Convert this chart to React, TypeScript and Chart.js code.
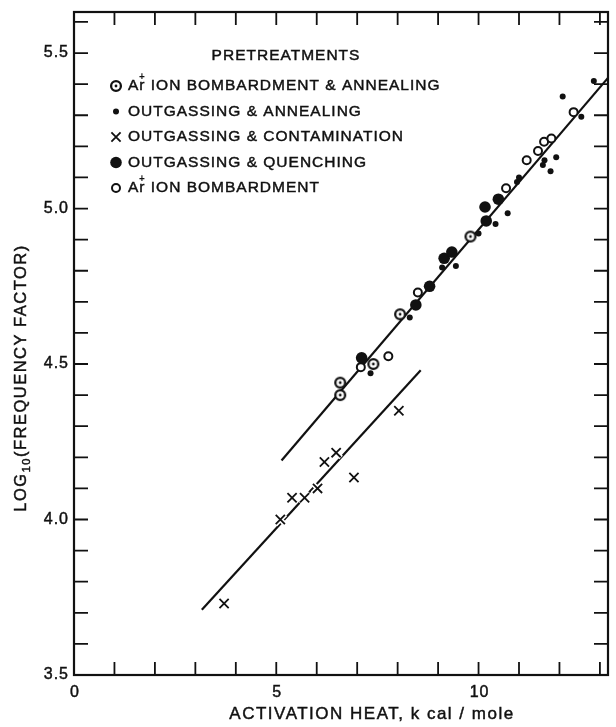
import React, { useEffect, useRef } from "react";
import { Chart, registerables } from "chart.js";

Chart.register(...registerables);

// Activation heat (kcal/mole) and log10(frequency factor) for each pretreatment
const ionAnnealX = [6.58, 6.58, 7.4, 8.06, 9.8];
const ionAnnealY = [4.44, 4.4, 4.5, 4.66, 4.91];

const outAnnealX = [7.33, 8.3, 9.1, 9.44, 10.0, 10.42, 10.72, 10.95, 11.0, 11.59, 11.63, 11.92, 11.78, 12.54, 12.08, 12.85];
const outAnnealY = [4.47, 4.65, 4.81, 4.815, 4.92, 4.95, 4.985, 5.085, 5.1, 5.14, 5.155, 5.165, 5.12, 5.295, 5.36, 5.41];

const contamX = [3.71, 5.1, 5.39, 5.7, 6.02, 6.19, 6.48, 6.92, 8.03];
const contamY = [3.73, 4.0, 4.07, 4.07, 4.1, 4.185, 4.215, 4.135, 4.35];

const quenchX = [7.11, 8.45, 8.79, 9.15, 9.34, 10.19, 10.16, 10.49];
const quenchY = [4.52, 4.69, 4.75, 4.84, 4.86, 4.96, 5.005, 5.03];

const ionBombX = [7.09, 7.77, 8.5, 10.68, 11.19, 11.47, 11.62, 11.8, 12.35];
const ionBombY = [4.49, 4.525, 4.73, 5.065, 5.155, 5.185, 5.215, 5.225, 5.31];

// Fitted straight lines (end points)
const upperFitX = [5.13, 13.2];
const upperFitY = [4.19, 5.42];
const lowerFitX = [3.16, 8.57];
const lowerFitY = [3.71, 4.48];

// Axes
const X_MIN = 0;
const X_MAX = 13.2;
const Y_MIN = 3.5;
const Y_MAX = 5.632;
const xTickLabels = [0, 5, 10];
const yTickLabels = ["3.5", "4.0", "4.5", "5.0", "5.5"];

const legendTitle = "PRETREATMENTS";
const legendRows = [
  { mark: "ionAnneal", ar: true, text: " ION BOMBARDMENT & ANNEALING" },
  { mark: "small", ar: false, text: "OUTGASSING & ANNEALING" },
  { mark: "cross", ar: false, text: "OUTGASSING & CONTAMINATION" },
  { mark: "big", ar: false, text: "OUTGASSING & QUENCHING" },
  { mark: "open", ar: true, text: " ION BOMBARDMENT" },
];
const xTitle = "ACTIVATION HEAT, k cal / mole";
const yTitleParts = ["LOG", "10", "(FREQUENCY FACTOR)"];

const FONT = "'Liberation Sans', Arial, sans-serif";
const INK = "#111";

const pts = (xs: number[], ys: number[]) => xs.map((x, i) => ({ x, y: ys[i] }));

// Text with a faint outline so the lettering reads as medium weight
function ink(ctx: CanvasRenderingContext2D, s: string, x: number, y: number) {
  ctx.fillText(s, x, y);
  ctx.strokeText(s, x, y);
}

function makeDottedCircle(): HTMLCanvasElement {
  const c = document.createElement("canvas");
  c.width = 14;
  c.height = 14;
  const g = c.getContext("2d")!;
  g.beginPath();
  g.arc(7, 7, 4.9, 0, Math.PI * 2);
  g.fillStyle = "#fff";
  g.fill();
  g.lineWidth = 2.3;
  g.strokeStyle = INK;
  g.stroke();
  g.beginPath();
  g.arc(7, 7, 1.4, 0, Math.PI * 2);
  g.fillStyle = INK;
  g.fill();
  return c;
}

function drawMark(ctx: CanvasRenderingContext2D, kind: string, x: number, y: number) {
  ctx.save();
  ctx.strokeStyle = INK;
  ctx.fillStyle = INK;
  if (kind === "ionAnneal") {
    ctx.beginPath();
    ctx.arc(x, y, 4.9, 0, Math.PI * 2);
    ctx.lineWidth = 2.3;
    ctx.stroke();
    ctx.beginPath();
    ctx.arc(x, y, 1.4, 0, Math.PI * 2);
    ctx.fill();
  } else if (kind === "small") {
    ctx.beginPath();
    ctx.arc(x, y, 3, 0, Math.PI * 2);
    ctx.fill();
  } else if (kind === "big") {
    ctx.beginPath();
    ctx.arc(x, y, 5.8, 0, Math.PI * 2);
    ctx.fill();
  } else if (kind === "open") {
    ctx.beginPath();
    ctx.arc(x, y, 4, 0, Math.PI * 2);
    ctx.lineWidth = 2;
    ctx.stroke();
  } else if (kind === "cross") {
    const r = 4.6;
    ctx.lineWidth = 1.8;
    ctx.beginPath();
    ctx.moveTo(x - r, y - r);
    ctx.lineTo(x + r, y + r);
    ctx.moveTo(x - r, y + r);
    ctx.lineTo(x + r, y - r);
    ctx.stroke();
  }
  ctx.restore();
}

const framePlugin = {
  id: "frameAndText",
  afterDraw(chart: any) {
    const ctx: CanvasRenderingContext2D = chart.ctx;
    const a = chart.chartArea;
    const xs = chart.scales.x;
    const ys = chart.scales.y;
    ctx.save();

    // frame
    ctx.strokeStyle = INK;
    ctx.lineWidth = 2.2;
    ctx.strokeRect(a.left, a.top, a.right - a.left, a.bottom - a.top);

    // inward ticks
    ctx.lineWidth = 1.8;
    ctx.beginPath();
    for (let v = X_MIN + 1; v < X_MAX; v++) {
      const px = xs.getPixelForValue(v);
      ctx.moveTo(px, a.bottom);
      ctx.lineTo(px, a.bottom - 13);
      ctx.moveTo(px, a.top);
      ctx.lineTo(px, a.top + 13);
    }
    for (let k = 1; Y_MIN + k * 0.1 < Y_MAX; k++) {
      const py = ys.getPixelForValue(Y_MIN + k * 0.1);
      ctx.moveTo(a.left, py);
      ctx.lineTo(a.left + 14, py);
      ctx.moveTo(a.right, py);
      ctx.lineTo(a.right - 14, py);
    }
    ctx.stroke();

    ctx.fillStyle = INK;
    ctx.strokeStyle = INK;
    ctx.lineWidth = 0.45;
    (ctx as any).letterSpacing = "1px";

    // tick labels
    ctx.font = `16px ${FONT}`;
    ctx.textAlign = "right";
    ctx.textBaseline = "middle";
    yTickLabels.forEach((t) => {
      ink(ctx, t, a.left - 5, ys.getPixelForValue(parseFloat(t)));
    });
    ctx.textAlign = "center";
    ctx.textBaseline = "top";
    xTickLabels.forEach((v) => {
      ink(ctx, String(v), xs.getPixelForValue(v) + 1, a.bottom + 10);
    });

    // x title
    ctx.font = `17px ${FONT}`;
    (ctx as any).letterSpacing = "1.5px";
    ctx.textAlign = "center";
    ctx.textBaseline = "alphabetic";
    ink(ctx, xTitle, 372, 719);

    // y title with subscript
    ctx.save();
    ctx.translate(26, 378);
    ctx.rotate(-Math.PI / 2);
    ctx.textAlign = "left";
    ctx.textBaseline = "alphabetic";
    const big = `16.5px ${FONT}`;
    const small = `11px ${FONT}`;
    ctx.font = big;
    const w0 = ctx.measureText(yTitleParts[0]).width;
    const w2 = ctx.measureText(yTitleParts[2]).width;
    ctx.font = small;
    const w1 = ctx.measureText(yTitleParts[1]).width;
    let tx = -(w0 + w1 + w2) / 2;
    ctx.font = big;
    ink(ctx, yTitleParts[0], tx, 0);
    tx += w0;
    ctx.font = small;
    ink(ctx, yTitleParts[1], tx, 4);
    tx += w1;
    ctx.font = big;
    ink(ctx, yTitleParts[2], tx, 0);
    ctx.restore();

    // legend
    (ctx as any).letterSpacing = "1px";
    ctx.font = `15.5px ${FONT}`;
    ctx.textAlign = "center";
    ctx.textBaseline = "middle";
    ink(ctx, legendTitle, 286, 56);
    ctx.textAlign = "left";
    legendRows.forEach((row, i) => {
      const y = 86 + i * 25.5;
      drawMark(ctx, row.mark, 116, y);
      let x = 128;
      ctx.font = `15.5px ${FONT}`;
      if (row.ar) {
        ink(ctx, "A", x, y);
        x += ctx.measureText("A").width;
        ink(ctx, "r", x, y);
        const rw = ctx.measureText("r").width;
        ctx.font = `bold 10px ${FONT}`;
        (ctx as any).letterSpacing = "0px";
        ctx.textAlign = "center";
        ctx.fillText("+", x + rw / 2 - 0.5, y - 9);
        ctx.textAlign = "left";
        (ctx as any).letterSpacing = "1px";
        ctx.font = `15.5px ${FONT}`;
        x += rw;
      }
      ink(ctx, row.text, x, y);
    });

    ctx.restore();
  },
};

export default function App() {
  const ref = useRef<HTMLCanvasElement | null>(null);

  useEffect(() => {
    if (!ref.current) return;
    const dotted = makeDottedCircle();
    const chart = new Chart(ref.current, {
      type: "scatter",
      data: {
        datasets: [
          {
            label: "Ar+ ion bombardment & annealing",
            data: pts(ionAnnealX, ionAnnealY),
            pointStyle: dotted as any,
            pointRadius: 7,
            order: 0,
          },
          {
            label: "Ar+ ion bombardment",
            data: pts(ionBombX, ionBombY),
            pointStyle: "circle",
            pointRadius: 4,
            borderWidth: 2,
            borderColor: INK,
            backgroundColor: "#fff",
            order: 0,
          },
          {
            label: "Outgassing & quenching",
            data: pts(quenchX, quenchY),
            pointStyle: "circle",
            pointRadius: 5.8,
            borderWidth: 0,
            backgroundColor: INK,
            order: 1,
          },
          {
            label: "Outgassing & annealing",
            data: pts(outAnnealX, outAnnealY),
            pointStyle: "circle",
            pointRadius: 3,
            borderWidth: 0,
            backgroundColor: INK,
            order: 1,
          },
          {
            label: "Outgassing & contamination",
            data: pts(contamX, contamY),
            pointStyle: "crossRot",
            pointRadius: 6.5,
            borderWidth: 1.8,
            borderColor: INK,
            order: 1,
          },
          {
            label: "cross halo",
            data: pts(contamX, contamY),
            pointStyle: "crossRot",
            pointRadius: 7,
            borderWidth: 5,
            borderColor: "#fff",
            order: 2,
          },
          {
            label: "upper fit",
            data: pts(upperFitX, upperFitY),
            showLine: true,
            pointRadius: 0,
            borderColor: INK,
            borderWidth: 2.2,
            order: 3,
          },
          {
            label: "lower fit",
            data: pts(lowerFitX, lowerFitY),
            showLine: true,
            pointRadius: 0,
            borderColor: INK,
            borderWidth: 2.2,
            order: 3,
          },
        ],
      },
      options: {
        animation: false,
        responsive: false,
        events: [],
        layout: { padding: { left: 74, top: 12, right: 2, bottom: 52 } },
        scales: {
          x: { type: "linear", min: X_MIN, max: X_MAX, display: false },
          y: { type: "linear", min: Y_MIN, max: Y_MAX, display: false },
        },
        plugins: {
          legend: { display: false },
          tooltip: { enabled: false },
        },
      },
      plugins: [framePlugin],
    });
    return () => chart.destroy();
  }, []);

  return (
    <div
      style={{
        position: "absolute",
        left: 0,
        top: 0,
        width: 616,
        height: 727,
        overflow: "hidden",
        background: "#fff",
      }}
    >
      <canvas ref={ref} width={620} height={727} style={{ display: "block" }} />
    </div>
  );
}
